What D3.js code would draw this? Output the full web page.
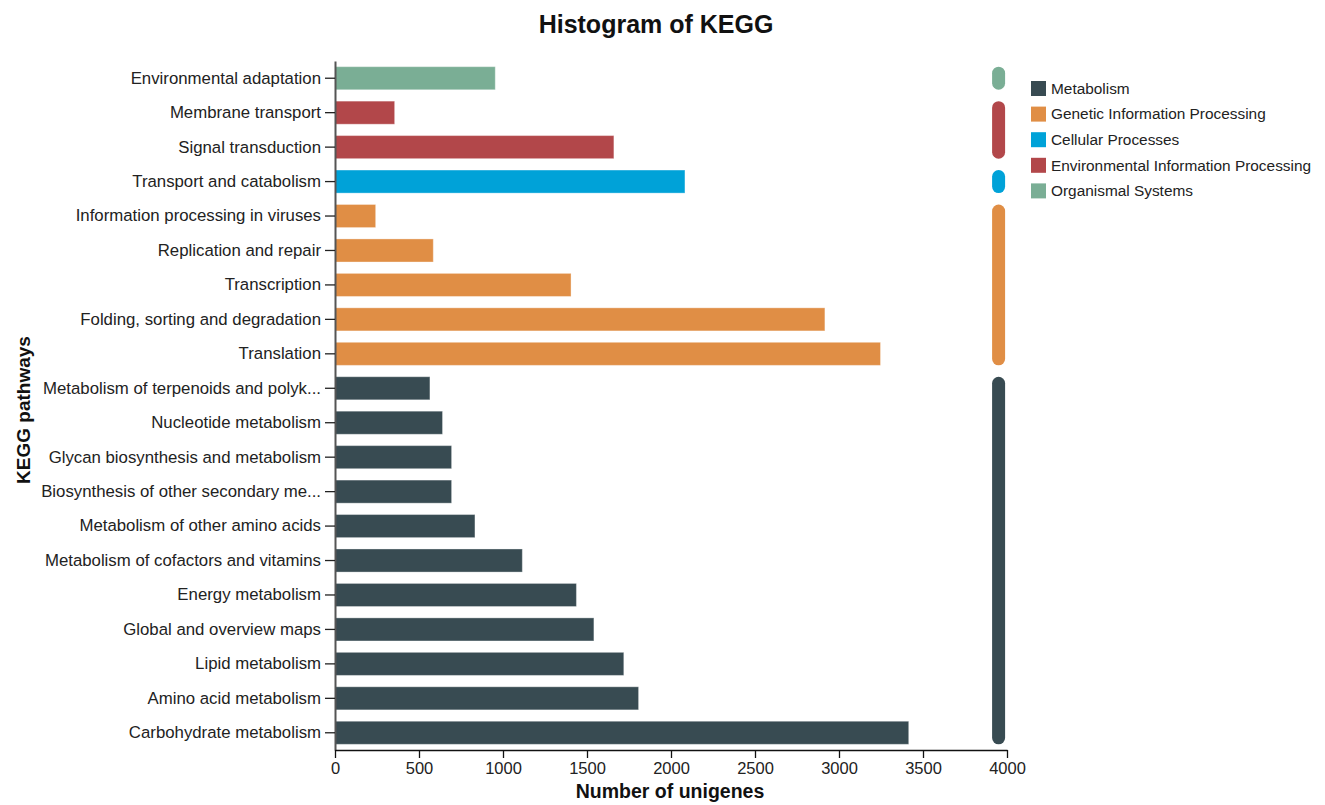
<!DOCTYPE html>
<html>
<head>
<meta charset="utf-8">
<script src="https://cdn.jsdelivr.net/npm/d3@7"></script>
<style>
  html, body { margin: 0; padding: 0; background: #fff; }
  svg { display: block; font-family: "Liberation Sans", Arial, Helvetica, sans-serif; }
</style>
</head>
<body>
<svg id="chart" width="1325" height="805"></svg>
<script>
// KEGG pathway categories, listed top to bottom
const pathways = [
  "Environmental adaptation",
  "Membrane transport",
  "Signal transduction",
  "Transport and catabolism",
  "Information processing in viruses",
  "Replication and repair",
  "Transcription",
  "Folding, sorting and degradation",
  "Translation",
  "Metabolism of terpenoids and polyk...",
  "Nucleotide metabolism",
  "Glycan biosynthesis and metabolism",
  "Biosynthesis of other secondary me...",
  "Metabolism of other amino acids",
  "Metabolism of cofactors and vitamins",
  "Energy metabolism",
  "Global and overview maps",
  "Lipid metabolism",
  "Amino acid metabolism",
  "Carbohydrate metabolism"
];

// Number of unigenes annotated to each pathway
const unigeneCounts = [
  954, 355, 1660, 2083, 242, 585, 1405, 2916, 3247,
  565, 640, 694, 694, 833, 1115, 1437, 1541, 1719, 1807, 3415
];

// Top-level KEGG class of each pathway
const pathwayClass = [
  "Organismal Systems",
  "Environmental Information Processing",
  "Environmental Information Processing",
  "Cellular Processes",
  "Genetic Information Processing",
  "Genetic Information Processing",
  "Genetic Information Processing",
  "Genetic Information Processing",
  "Genetic Information Processing",
  "Metabolism", "Metabolism", "Metabolism", "Metabolism", "Metabolism", "Metabolism",
  "Metabolism", "Metabolism", "Metabolism", "Metabolism", "Metabolism"
];

// Legend order
const classes = [
  "Metabolism",
  "Genetic Information Processing",
  "Cellular Processes",
  "Environmental Information Processing",
  "Organismal Systems"
];
const classColors = ["#384b52", "#e08e45", "#00a2d8", "#b2474a", "#7aae95"];

const xTicks = [0, 500, 1000, 1500, 2000, 2500, 3000, 3500, 4000];

const rows = pathways.map((p, i) => ({ name: p, value: unigeneCounts[i], cls: pathwayClass[i] }));

const svg = d3.select("#chart");
const plot = { left: 335, right: 1007, top: 61, bottom: 750 };

const x = d3.scaleLinear().domain([0, 4000]).range([plot.left, plot.right]);
const y = d3.scaleBand().domain(pathways).range([plot.top, plot.bottom])
  .paddingInner(0.33).paddingOuter(0.165);
const color = d3.scaleOrdinal().domain(classes).range(classColors);

// Title
svg.append("text")
  .attr("x", 656).attr("y", 33)
  .attr("text-anchor", "middle")
  .attr("font-size", 25).attr("font-weight", "bold").attr("fill", "#111")
  .text("Histogram of KEGG");

// Bars
svg.append("g").selectAll("rect").data(rows).join("rect")
  .attr("x", x(0))
  .attr("y", d => y(d.name))
  .attr("width", d => x(d.value) - x(0))
  .attr("height", y.bandwidth())
  .attr("fill", d => color(d.cls))
  .attr("stroke", "#ffffff").attr("stroke-opacity", 0.35).attr("stroke-width", 1);

// Y axis
const yAxis = svg.append("g")
  .attr("transform", `translate(${plot.left},0)`)
  .call(d3.axisLeft(y).tickSize(10).tickPadding(4).tickSizeOuter(0));
yAxis.select(".domain").attr("stroke", "#555").attr("stroke-width", 2);
yAxis.selectAll(".tick line").attr("stroke", "#222").attr("stroke-width", 1.3);
yAxis.selectAll(".tick text").attr("font-size", 16.8).attr("fill", "#222")
  .attr("font-family", "'Liberation Sans', Arial, sans-serif");

// X axis
const xAxis = svg.append("g")
  .attr("transform", `translate(0,${plot.bottom})`)
  .call(d3.axisBottom(x).tickValues(xTicks).tickFormat(d3.format("d")).tickSize(8).tickPadding(4).tickSizeOuter(0));
xAxis.select(".domain").attr("stroke", "#111").attr("stroke-width", 1.5);
xAxis.selectAll(".tick line").attr("stroke", "#111").attr("stroke-width", 1.3);
xAxis.selectAll(".tick text").attr("font-size", 16.5).attr("fill", "#222")
  .attr("font-family", "'Liberation Sans', Arial, sans-serif");

// Axis titles
svg.append("text")
  .attr("x", 670).attr("y", 798)
  .attr("text-anchor", "middle")
  .attr("font-size", 19.5).attr("font-weight", "bold").attr("fill", "#111")
  .text("Number of unigenes");

svg.append("text")
  .attr("transform", "translate(30,410) rotate(-90)")
  .attr("text-anchor", "middle")
  .attr("font-size", 19).attr("font-weight", "bold").attr("fill", "#111")
  .text("KEGG pathways");

// Class brackets: rounded bars spanning each run of pathways in one class
const runs = [];
rows.forEach((d, i) => {
  const last = runs[runs.length - 1];
  if (last && last.cls === d.cls) last.end = d.name;
  else runs.push({ cls: d.cls, start: d.name, end: d.name });
});
const pillX = x(3950);
const pillW = 13;
svg.append("g").selectAll("rect").data(runs).join("rect")
  .attr("x", pillX - pillW / 2)
  .attr("y", d => y(d.start))
  .attr("width", pillW)
  .attr("height", d => y(d.end) + y.bandwidth() - y(d.start))
  .attr("rx", pillW / 2).attr("ry", pillW / 2)
  .attr("fill", d => color(d.cls));

// Legend
const legend = svg.append("g").attr("transform", "translate(1031,81)");
const item = legend.selectAll("g").data(classes).join("g")
  .attr("transform", (d, i) => `translate(0,${i * 25.6})`);
item.append("rect").attr("width", 15).attr("height", 15).attr("fill", d => color(d));
item.append("text")
  .attr("x", 20).attr("y", 7.5).attr("dy", "0.35em")
  .attr("font-size", 15.4).attr("fill", "#222")
  .text(d => d);
</script>
</body>
</html>
